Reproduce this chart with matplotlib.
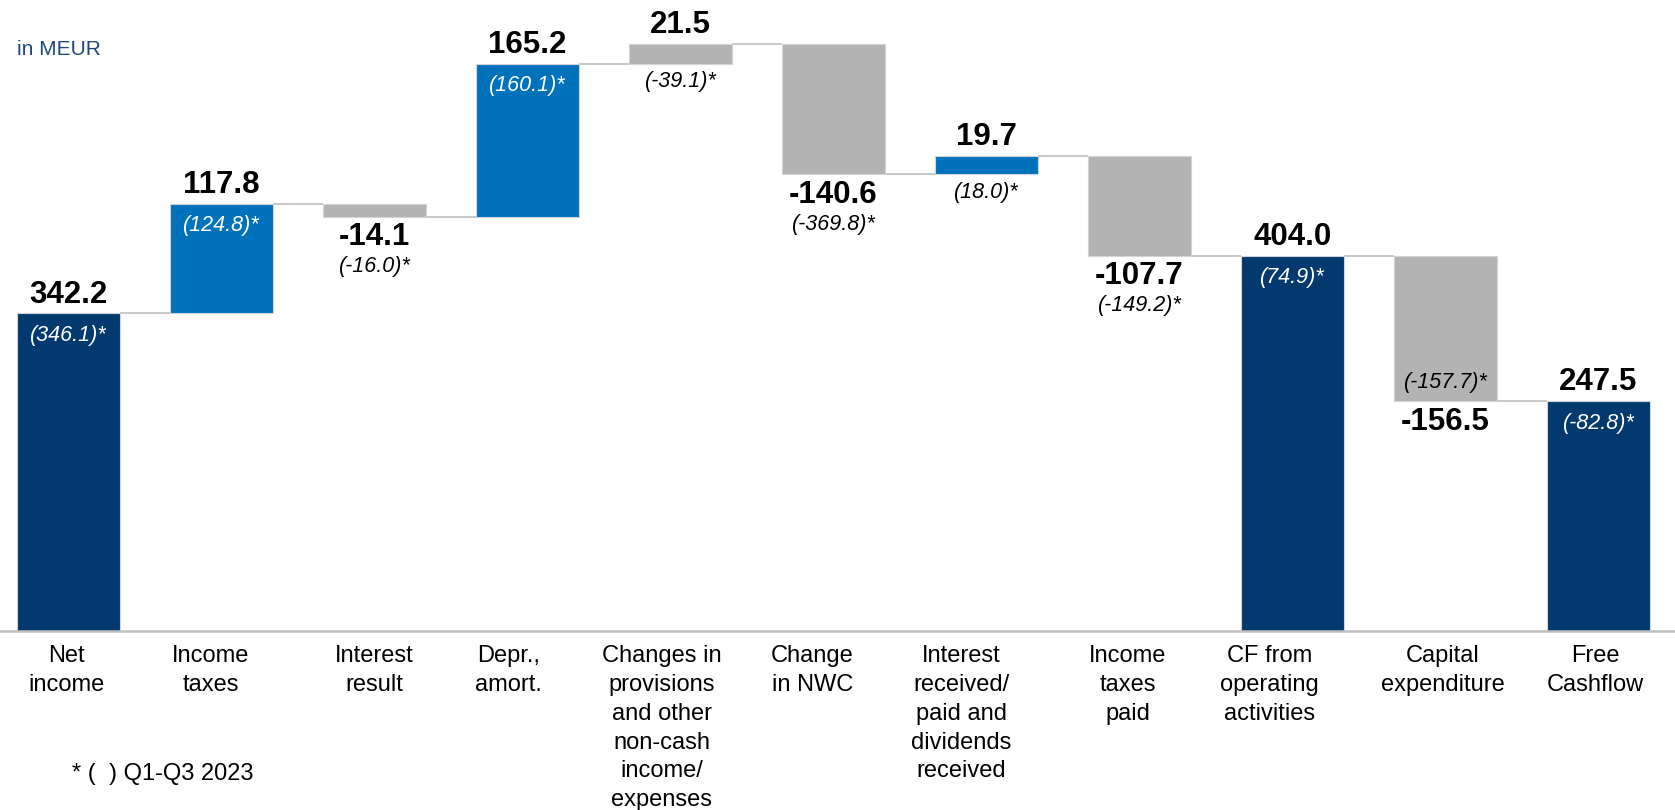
import matplotlib
matplotlib.use("Agg")
import matplotlib.pyplot as plt
import matplotlib.transforms as mtransforms

plt.rcParams['font.family'] = ['Liberation Sans', 'DejaVu Sans']

# ---------------- data ----------------
categories = ["Net\nincome", "Income\ntaxes", "Interest\nresult", "Depr.,\namort.",
              "Changes in\nprovisions\nand other\nnon-cash\nincome/\nexpenses",
              "Change\nin NWC",
              "Interest\nreceived/\npaid and\ndividends\nreceived",
              "Income\ntaxes\npaid", "CF from\noperating\nactivities",
              "Capital\nexpenditure", "Free\nCashflow"]
values = [342.2, 117.8, -14.1, 165.2, 21.5, -140.6, 19.7, -107.7, 404.0, -156.5, 247.5]
is_total = [True, False, False, False, False, False, False, False, True, False, True]
prior_labels = ["(346.1)*", "(124.8)*", "(-16.0)*", "(160.1)*", "(-39.1)*", "(-369.8)*",
                "(18.0)*", "(-149.2)*", "(74.9)*", "(-157.7)*", "(-82.8)*"]
unit_label = "in MEUR"
footnote = "* (  ) Q1-Q3 2023"

# ---------------- style ----------------
NAVY = "#023A70"
BLUE = "#0072BC"
GREY = "#B3B3B3"
bar_colors = [NAVY, BLUE, GREY, BLUE, GREY, GREY, BLUE, GREY, NAVY, GREY, NAVY]
prior_pos = ["inside_top", "inside_top", "below", "inside_top", "below", "below",
             "below", "below", "inside_top", "inside_bottom", "inside_top"]
# horizontal shift (px) of category text boxes relative to bar centres
label_dx_px = [-2, -11, 0, -19, -19, -21, -25, -12, -23, -3, -3]

W, H = 1675, 810
fig = plt.figure(figsize=(W / 100, H / 100), dpi=100)
base_px = 630.7          # baseline position from top
px_per_unit = 0.928
ax = fig.add_axes([0, (H - base_px) / H, 1, base_px / H])
spacing_px, first_c = 153.0, 68.5
ax.set_xlim(-first_c / spacing_px, (W - first_c) / spacing_px)
ax.set_ylim(0, base_px / px_per_unit)
ax.axis("off")

# waterfall geometry
bottoms, heights, levels = [], [], []
running = 0.0
for v, tot in zip(values, is_total):
    if tot:
        bottoms.append(0.0)
        heights.append(v)
        running = v
    else:
        bottoms.append(running if v >= 0 else running + v)
        heights.append(abs(v))
        running += v
    levels.append(running)

x = list(range(len(values)))
bw = 103 / spacing_px
ax.bar(x, heights, bottom=bottoms, width=bw, color=bar_colors,
       edgecolor="#D4D4D4", linewidth=0.8, zorder=3)

# connectors
for i in range(len(values) - 1):
    ax.plot([x[i] + bw / 2, x[i + 1] - bw / 2], [levels[i], levels[i]],
            color="#C4C4C4", lw=1.3, zorder=2, solid_capstyle="butt")

# baseline
ax.axhline(0, color="#BFBFBF", lw=1.8, zorder=4, clip_on=False)

PT = 0.72  # px -> pt

for i, (v, tot) in enumerate(zip(values, is_total)):
    top = bottoms[i] + heights[i]
    bot = bottoms[i]
    label = f"{v:.1f}"
    bold_below = (not tot) and v < 0
    if bold_below:
        ax.annotate(label, (x[i], bot), xytext=(0, -20.5 * PT), textcoords="offset points",
                    ha="center", va="center", fontsize=22.5, fontweight="bold", color="black")
    else:
        ax.annotate(label, (x[i], top), xytext=(0, 18.6 * PT), textcoords="offset points",
                    ha="center", va="center", fontsize=22.5, fontweight="bold", color="black")
    pos = prior_pos[i]
    if pos == "inside_top":
        ax.annotate(prior_labels[i], (x[i], top), xytext=(0, -22 * PT), textcoords="offset points",
                    ha="center", va="center", fontsize=15.5, style="italic", color="white", zorder=5)
    elif pos == "inside_bottom":
        ax.annotate(prior_labels[i], (x[i], bot), xytext=(0, 19 * PT), textcoords="offset points",
                    ha="center", va="center", fontsize=15.5, style="italic", color="black", zorder=5)
    else:
        off = -50 if bold_below else -18
        ax.annotate(prior_labels[i], (x[i], bot), xytext=(0, off * PT), textcoords="offset points",
                    ha="center", va="center", fontsize=15.5, style="italic", color="black")

# category labels
trans = mtransforms.blended_transform_factory(ax.transData, ax.transAxes)
for i, c in enumerate(categories):
    ax.annotate(c, (x[i], 0), xycoords=trans,
                xytext=(label_dx_px[i] * PT, -14.5 * PT), textcoords="offset points",
                ha="center", va="top", fontsize=17, linespacing=1.40, color="black",
                annotation_clip=False)

fig.text(17 / W, 1 - 49.5 / H, unit_label, fontsize=15, color="#1F497D", ha="left", va="center")
fig.text(72 / W, 1 - 774 / H, footnote, fontsize=17, color="black", ha="left", va="center")

fig.savefig("out.png", dpi=100)
